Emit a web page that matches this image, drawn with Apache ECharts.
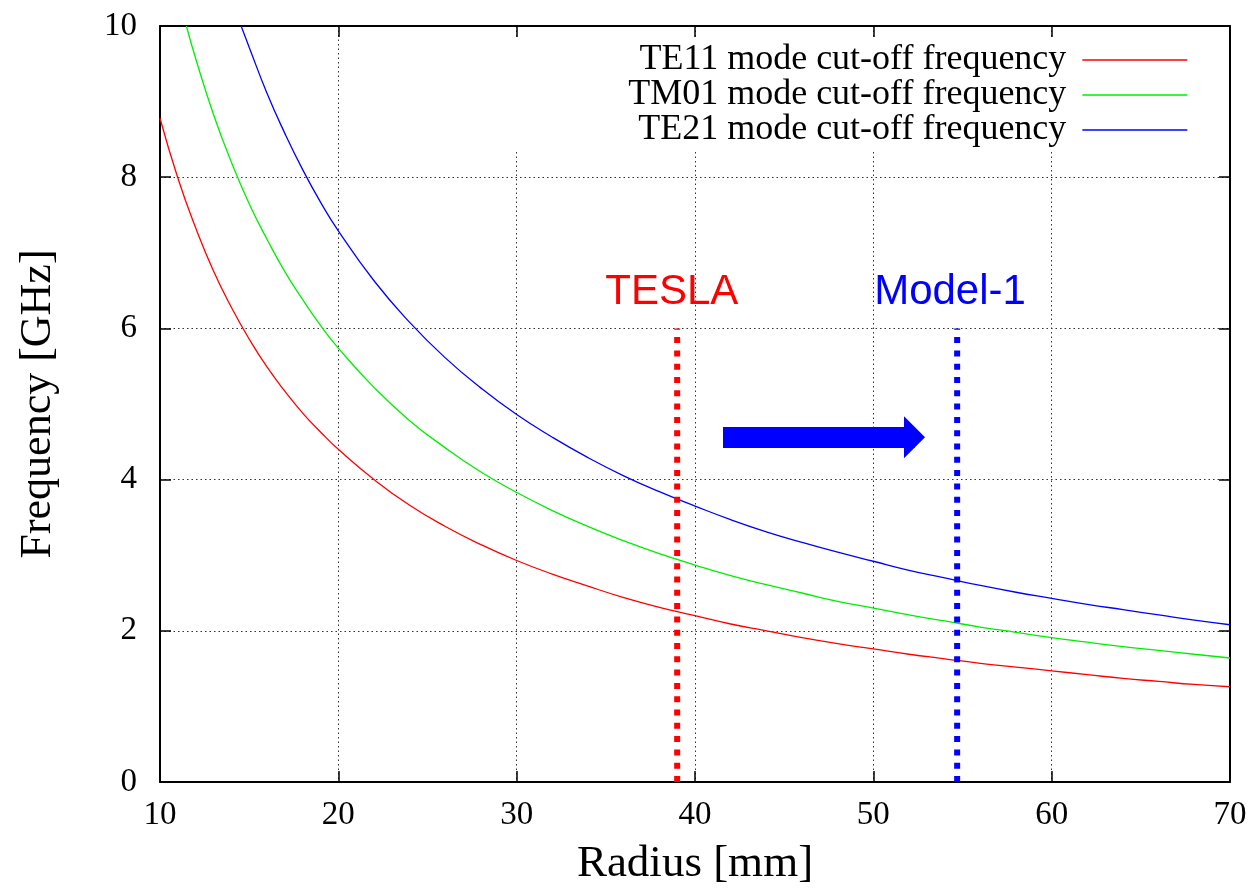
<!DOCTYPE html>
<html>
<head>
<meta charset="utf-8">
<script src="https://cdn.jsdelivr.net/npm/echarts@6/dist/echarts.min.js"></script>
<style>
  html, body { margin: 0; padding: 0; background: #fff; }
  #chart { width: 1259px; height: 892px; }
</style>
</head>
<body>
<div id="chart"></div>
<script>
// values (radius in mm, frequency in GHz)
const te11Radius = [10, 11, 12, 13, 14, 15, 16, 17, 18, 19, 20, 22, 24, 26, 28, 30, 32, 34, 36, 38, 40, 42, 44, 46, 48, 50, 52, 54, 56, 58, 60, 62, 64, 66, 68, 70];
const te11Freq = [8.78, 7.99, 7.33, 6.76, 6.28, 5.86, 5.49, 5.17, 4.88, 4.63, 4.40, 4.00, 3.66, 3.38, 3.14, 2.93, 2.75, 2.59, 2.44, 2.31, 2.20, 2.09, 2.00, 1.91, 1.83, 1.76, 1.69, 1.63, 1.57, 1.52, 1.47, 1.42, 1.37, 1.33, 1.29, 1.26];

const tm01Radius = [11.48, 12, 13, 14, 15, 16, 17, 18, 19, 20, 22, 24, 26, 28, 30, 32, 34, 36, 38, 40, 42, 44, 46, 48, 50, 52, 54, 56, 58, 60, 62, 64, 66, 68, 70];
const tm01Freq = [10.0, 9.57, 8.83, 8.20, 7.65, 7.18, 6.75, 6.38, 6.04, 5.74, 5.22, 4.78, 4.42, 4.10, 3.83, 3.59, 3.38, 3.19, 3.02, 2.87, 2.73, 2.61, 2.50, 2.39, 2.30, 2.21, 2.13, 2.05, 1.98, 1.91, 1.85, 1.79, 1.74, 1.69, 1.64];

const te21Radius = [14.55, 15, 16, 17, 18, 19, 20, 22, 24, 26, 28, 30, 32, 34, 36, 38, 40, 42, 44, 46, 48, 50, 52, 54, 56, 58, 60, 62, 64, 66, 68, 70];
const te21Freq = [10.0, 9.72, 9.11, 8.58, 8.10, 7.67, 7.29, 6.63, 6.08, 5.61, 5.21, 4.86, 4.56, 4.29, 4.05, 3.84, 3.65, 3.47, 3.31, 3.17, 3.04, 2.92, 2.80, 2.70, 2.60, 2.51, 2.43, 2.35, 2.28, 2.21, 2.14, 2.08];

const seriesNames = ['TE11 mode cut-off frequency', 'TM01 mode cut-off frequency', 'TE21 mode cut-off frequency'];
const seriesColors = ['#ff0000', '#00ee00', '#0000ff'];

// vertical markers
const teslaRadius = 39.0;
const model1Radius = 54.7;
const markerTop = 6;
const teslaLabelAt = [38.7, 6.47];
const model1LabelAt = [54.3, 6.47];
// arrow between the markers
const arrowStart = [41.57, 4.56];
const arrowEnd = [52.31, 4.56];

const xTicks = [10, 20, 30, 40, 50, 60, 70];
const yTicks = [0, 2, 4, 6, 8, 10];

const serif = 'Liberation Serif';
const sans = 'Liberation Sans';

function pairs (xs, ys) {
  return xs.map(function (x, i) { return [x, ys[i]]; });
}

const chart = echarts.init(document.getElementById('chart'));

const gridLine = { show: true, lineStyle: { color: '#333', width: 1, type: [1.5, 3] } };
const frame = { show: true, onZero: false, lineStyle: { color: '#000', width: 2 } };
const tick = { show: true, inside: true, length: 11, lineStyle: { color: '#000', width: 1.5 } };

function curve (name, xs, ys, color) {
  return {
    name: name,
    type: 'line',
    data: pairs(xs, ys),
    symbol: 'none',
    smooth: 0.5,
    lineStyle: { color: color, width: 1.3 },
    itemStyle: { color: color },
    z: 3
  };
}

function legendFor (name, top, pad) {
  return {
    data: [name],
    right: 31,
    top: top,
    orient: 'vertical',
    align: 'right',
    selectedMode: false,
    backgroundColor: '#fff',
    padding: pad,
    itemWidth: 105,
    itemHeight: 35,
    itemStyle: { opacity: 0 },
    lineStyle: { width: 1.3 },
    textStyle: {
      fontFamily: serif,
      fontSize: 36,
      color: '#000',
      lineHeight: 35,
      padding: [0, 11, 0, 0]
    }
  };
}

chart.setOption({
  animation: false,
  backgroundColor: '#fff',
  grid: { left: 160, right: 29, top: 26, bottom: 110 },
  legend: [
    legendFor(seriesNames[0], 37, [5, 40, 0, 140]),
    legendFor(seriesNames[1], 77, [0, 40, 0, 140]),
    legendFor(seriesNames[2], 112, [0, 40, 2, 140])
  ],
  xAxis: [{
    type: 'value',
    position: 'bottom',
    min: xTicks[0],
    max: xTicks[xTicks.length - 1],
    interval: 10,
    name: 'Radius [mm]',
    nameLocation: 'middle',
    nameGap: 60,
    nameTextStyle: { fontFamily: serif, fontSize: 45, color: '#000' },
    axisLine: frame,
    axisTick: tick,
    axisLabel: { fontFamily: serif, fontSize: 33, color: '#000', margin: 17 },
    splitLine: gridLine
  }, {
    type: 'value',
    position: 'top',
    min: xTicks[0],
    max: xTicks[xTicks.length - 1],
    interval: 10,
    axisLine: frame,
    axisTick: tick,
    axisLabel: { show: false },
    splitLine: { show: false }
  }],
  yAxis: [{
    type: 'value',
    position: 'left',
    min: yTicks[0],
    max: yTicks[yTicks.length - 1],
    interval: 2,
    name: 'Frequency [GHz]',
    nameLocation: 'middle',
    nameGap: 100,
    nameTextStyle: { fontFamily: serif, fontSize: 44, color: '#000' },
    axisLine: frame,
    axisTick: tick,
    axisLabel: { fontFamily: serif, fontSize: 33, color: '#000', margin: 23 },
    splitLine: gridLine
  }, {
    type: 'value',
    position: 'right',
    min: yTicks[0],
    max: yTicks[yTicks.length - 1],
    interval: 2,
    axisLine: frame,
    axisTick: tick,
    axisLabel: { show: false },
    splitLine: { show: false }
  }],
  series: [
    curve(seriesNames[0], te11Radius, te11Freq, seriesColors[0]),
    curve(seriesNames[1], tm01Radius, tm01Freq, seriesColors[1]),
    curve(seriesNames[2], te21Radius, te21Freq, seriesColors[2]),
    {
      name: 'TESLA',
      type: 'line',
      data: [[teslaRadius, 0], [teslaRadius, markerTop]],
      symbol: 'none',
      lineStyle: { color: '#ff0000', width: 6, type: [6, 7.3], cap: 'butt' },
      z: 4,
      markPoint: {
        symbol: 'rect',
        symbolSize: 1,
        itemStyle: { color: 'rgba(0,0,0,0)' },
        label: { show: true, position: 'inside', formatter: 'TESLA', fontFamily: sans, fontSize: 42, color: '#ff0000' },
        data: [{ coord: teslaLabelAt }]
      }
    },
    {
      name: 'Model-1',
      type: 'line',
      data: [[model1Radius, 0], [model1Radius, markerTop]],
      symbol: 'none',
      lineStyle: { color: '#0000ff', width: 6, type: [6, 7.3], cap: 'butt' },
      z: 4,
      markPoint: {
        symbol: 'rect',
        symbolSize: 1,
        itemStyle: { color: 'rgba(0,0,0,0)' },
        label: { show: true, position: 'inside', formatter: 'Model-1', fontFamily: sans, fontSize: 42, color: '#0000ff' },
        data: [{ coord: model1LabelAt }]
      },
      markLine: {
        silent: true,
        symbol: ['none', 'triangle'],
        symbolSize: [42, 21],
        label: { show: false },
        lineStyle: { color: '#0000ff', width: 21, type: 'solid' },
        itemStyle: { color: '#0000ff' },
        data: [[{ coord: arrowStart }, { coord: arrowEnd }]]
      }
    }
  ]
});
</script>
</body>
</html>
